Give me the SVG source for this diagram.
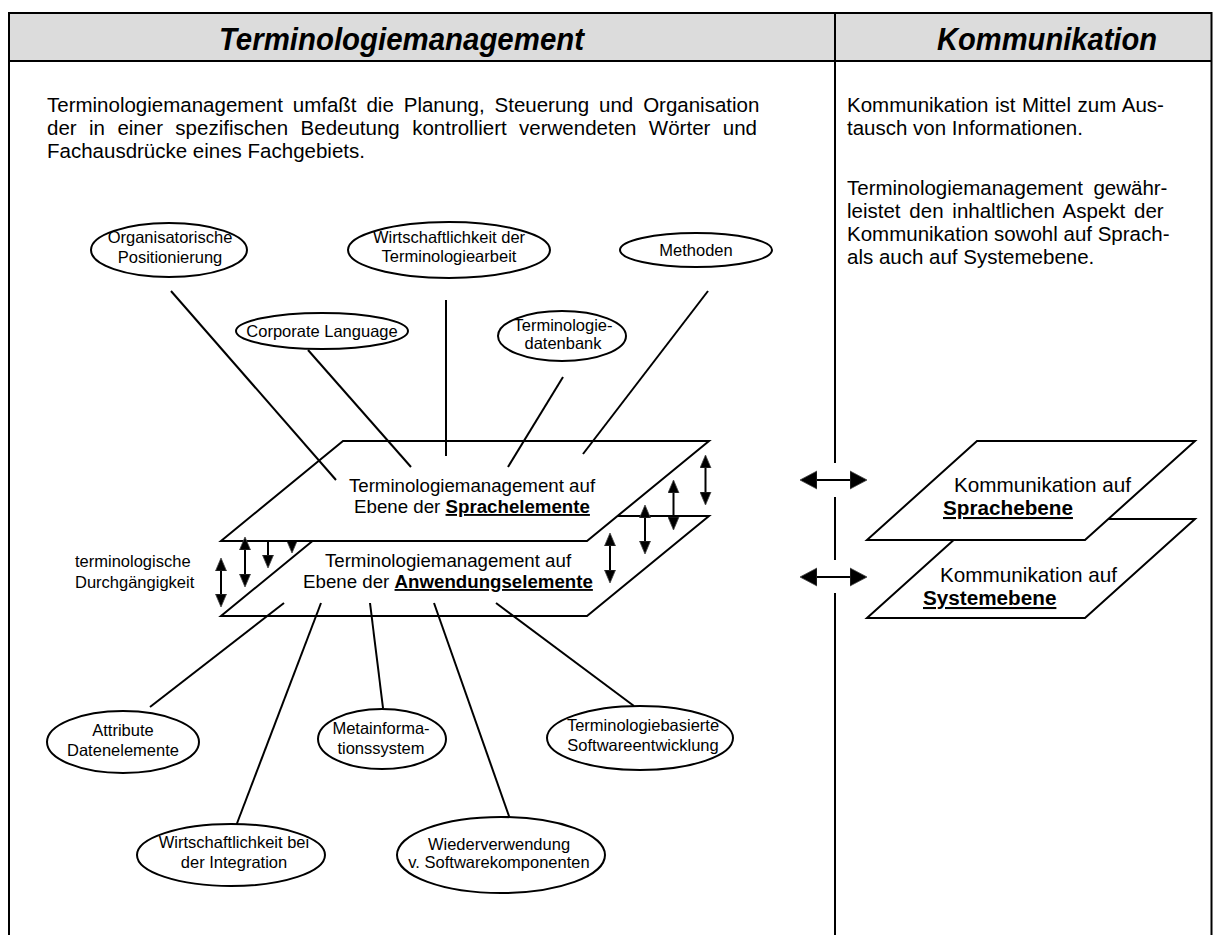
<svg xmlns="http://www.w3.org/2000/svg" width="1213" height="935" viewBox="0 0 1213 935">
<style>
text{font-family:"Liberation Sans",Arial,sans-serif;fill:#000}
.hd{font-size:32px;font-weight:bold;font-style:italic}
.bd{font-size:20.5px}
.el{font-size:16.5px;text-anchor:middle}
.pl{font-size:18.7px;text-anchor:middle}
.pr{font-size:20.7px}
.b{font-weight:bold;text-decoration:underline}
.ln{stroke:#000;stroke-width:2;fill:none}
.sh{stroke:#000;stroke-width:2;fill:#fff}
.ar{stroke:#000;stroke-width:2;fill:none;marker-start:url(#ah);marker-end:url(#ah)}
.ad{stroke:#000;stroke-width:2;fill:none;marker-end:url(#ah)}
.ah2{stroke:#000;stroke-width:2;fill:none;marker-start:url(#hb);marker-end:url(#hb)}
</style>
<defs>
<marker id="ah" viewBox="0 0 13 12" refX="3" refY="6" markerWidth="13" markerHeight="12" markerUnits="userSpaceOnUse" orient="auto-start-reverse">
<path d="M0,0.5 L13,6 L0,11.5 z" fill="#000" stroke="#444" stroke-width="0.8"/>
</marker>
<marker id="hb" viewBox="0 0 17 20" refX="4" refY="10" markerWidth="17" markerHeight="20" markerUnits="userSpaceOnUse" orient="auto-start-reverse">
<path d="M0,1 L17,10 L0,19 z" fill="#000" stroke="#444" stroke-width="0.8"/>
</marker>
</defs>

<g id="frame">
<rect x="9" y="13" width="1203" height="48" fill="#dcdcdc"/>
<path class="ln" d="M9,935 V13 H1211.5 V935"/>
<path class="ln" d="M9,61 H1212"/>
<path class="ln" d="M835,13 V463 M835,497 V560 M835,593 V935"/>
<text class="hd" x="219" y="50" textLength="365" lengthAdjust="spacingAndGlyphs">Terminologiemanagement</text>
<text class="hd" x="937" y="50" textLength="220" lengthAdjust="spacingAndGlyphs">Kommunikation</text>
</g>

<g id="text-left">
<text class="bd" x="47" y="112" word-spacing="4.2">Terminologiemanagement umfaßt die Planung, Steuerung und Organisation</text>
<text class="bd" x="47" y="135" word-spacing="6.7">der in einer spezifischen Bedeutung kontrolliert verwendeten Wörter und</text>
<text class="bd" x="47" y="158">Fachausdrücke eines Fachgebiets.</text>
</g>
<g id="text-right">
<text class="bd" x="847" y="112" word-spacing="0.9">Kommunikation ist Mittel zum Aus-</text>
<text class="bd" x="847" y="135">tausch von Informationen.</text>
<text class="bd" x="847" y="195" word-spacing="4.8">Terminologiemanagement gewähr-</text>
<text class="bd" x="847" y="218" word-spacing="3.1">leistet den inhaltlichen Aspekt der</text>
<text class="bd" x="847" y="241">Kommunikation sowohl auf Sprach-</text>
<text class="bd" x="847" y="264">als auch auf Systemebene.</text>
</g>

<g id="arrow-hidden">
<line class="ad" x1="292" y1="541" x2="292" y2="543"/>
</g>

<g id="plane-anwendung">
<polygon class="sh" points="343,516 709,516 587,616 221,616"/>
<text class="pl" x="448" y="567">Terminologiemanagement auf</text>
<text class="pl" x="448" y="588">Ebene der <tspan class="b">Anwendungselemente</tspan></text>
</g>
<g id="plane-sprache">
<polygon class="sh" points="343,441 709,441 587,541 221,541"/>
<text class="pl" x="472" y="492">Terminologiemanagement auf</text>
<text class="pl" x="472" y="513">Ebene der <tspan class="b">Sprachelemente</tspan></text>
</g>

<g id="plane-system">
<polygon class="sh" points="977,519 1195,519 1085,618 867,618"/>
<text class="pr" x="940" y="582">Kommunikation auf</text>
<text class="pr b" x="923" y="605">Systemebene</text>
</g>
<g id="plane-sprachebene">
<polygon class="sh" points="977,441 1195,441 1085,540 867,540"/>
<text class="pr" x="954" y="492">Kommunikation auf</text>
<text class="pr b" x="943" y="515">Sprachebene</text>
</g>

<g id="connectors">
<line class="ln" x1="171" y1="291" x2="336" y2="480"/>
<line class="ln" x1="308" y1="350" x2="411" y2="467"/>
<line class="ln" x1="446" y1="300" x2="446" y2="456"/>
<line class="ln" x1="563" y1="377" x2="508" y2="467"/>
<line class="ln" x1="708" y1="291" x2="583" y2="454"/>
<line class="ln" x1="284" y1="603" x2="150" y2="707"/>
<line class="ln" x1="321" y1="603" x2="236" y2="826"/>
<line class="ln" x1="370" y1="603" x2="383" y2="708"/>
<line class="ln" x1="434" y1="603" x2="510" y2="819"/>
<line class="ln" x1="496" y1="603" x2="634" y2="706"/>
<line class="ar" x1="705.5" y1="465" x2="705.5" y2="495"/>
<line class="ar" x1="673.5" y1="490" x2="673.5" y2="520"/>
<line class="ar" x1="645" y1="515" x2="645" y2="544"/>
<line class="ar" x1="610" y1="543" x2="610" y2="573"/>
<line class="ar" x1="221" y1="568" x2="221" y2="597"/>
<line class="ar" x1="245" y1="547" x2="245" y2="577"/>
<line class="ad" x1="268" y1="541" x2="268" y2="558"/>
<line class="ah2" x1="813" y1="480" x2="854" y2="480"/>
<line class="ah2" x1="813" y1="577" x2="854" y2="577"/>
</g>

<g id="label-durchgaengigkeit">
<text style="font-size:16.5px" x="75" y="567">terminologische</text>
<text style="font-size:16.5px" x="75" y="588">Durchgängigkeit</text>
</g>

<g id="e-organisatorisch">
<ellipse class="sh" cx="169" cy="250" rx="78" ry="27"/>
<text class="el" x="170" y="243">Organisatorische</text>
<text class="el" x="170" y="263">Positionierung</text>
</g>
<g id="e-wirtschaft-terminologie">
<ellipse class="sh" cx="449" cy="250" rx="101" ry="28"/>
<text class="el" x="449" y="243">Wirtschaftlichkeit der</text>
<text class="el" x="449" y="262">Terminologiearbeit</text>
</g>
<g id="e-methoden">
<ellipse class="sh" cx="696" cy="250" rx="76" ry="17"/>
<text class="el" x="696" y="256">Methoden</text>
</g>
<g id="e-corporate">
<ellipse class="sh" cx="322" cy="331" rx="86" ry="18"/>
<text class="el" x="322" y="337">Corporate Language</text>
</g>
<g id="e-datenbank">
<ellipse class="sh" cx="562" cy="336" rx="64" ry="25"/>
<text class="el" x="563" y="331">Terminologie-</text>
<text class="el" x="563" y="349">datenbank</text>
</g>
<g id="e-attribute">
<ellipse class="sh" cx="123" cy="742" rx="76" ry="31"/>
<text class="el" x="123" y="736">Attribute</text>
<text class="el" x="123" y="756">Datenelemente</text>
</g>
<g id="e-metainfo">
<ellipse class="sh" cx="382" cy="739" rx="64" ry="30"/>
<text class="el" x="381" y="734">Metainforma-</text>
<text class="el" x="381" y="754">tionssystem</text>
</g>
<g id="e-softwareentwicklung">
<ellipse class="sh" cx="640" cy="738" rx="93" ry="32"/>
<text class="el" x="643" y="731">Terminologiebasierte</text>
<text class="el" x="643" y="751">Softwareentwicklung</text>
</g>
<g id="e-wirtschaft-integration">
<ellipse class="sh" cx="231" cy="855" rx="94" ry="31"/>
<text class="el" x="234" y="848">Wirtschaftlichkeit bei</text>
<text class="el" x="234" y="868">der Integration</text>
</g>
<g id="e-wiederverwendung">
<ellipse class="sh" cx="501" cy="855" rx="104" ry="38"/>
<text class="el" x="499" y="850">Wiederverwendung</text>
<text class="el" x="499" y="868">v. Softwarekomponenten</text>
</g>
</svg>
